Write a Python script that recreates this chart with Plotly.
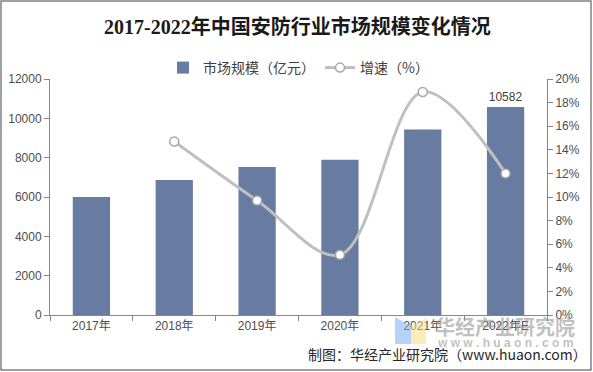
import plotly.graph_objects as go

years = ["2017年", "2018年", "2019年", "2020年", "2021年", "2022年E"]
market_size = [6000, 6860, 7530, 7900, 9430, 10582]
growth = [None, 0.147, 0.097, 0.051, 0.189, 0.120]
bar_labels = ["", "", "", "", "", "10582"]

W, H = 593, 372
L, R, T, B = 50, 46, 79, 57
PW, PH = W - L - R, H - T - B


def px(x):
    return (x - L) / PW


def py(y):
    return (H - B - y) / PH


fig = go.Figure()
fig.add_trace(go.Bar(
    x=years, y=market_size, name="市场规模（亿元）",
    marker=dict(color="#687ba0", line=dict(width=0)),
    text=bar_labels, textposition="outside", cliponaxis=False,
    textfont=dict(family="Liberation Sans, Arial", size=12, color="#404040"),
))
fig.add_trace(go.Scatter(
    x=years, y=growth, name="增速（%）", yaxis="y2",
    mode="lines+markers",
    line=dict(color="#c0c0c0", width=3, shape="spline", smoothing=1.0),
    marker=dict(color="white", size=9, line=dict(color="#a6a6a6", width=1.5)),
    connectgaps=False,
))

axis_font = dict(family="Liberation Sans, Arial, Noto Sans CJK SC", size=12, color="#4d4d4d")

fig.update_layout(
    width=W, height=H,
    margin=dict(l=L, r=R, t=T, b=B, autoexpand=False),
    paper_bgcolor="white", plot_bgcolor="white",
    bargap=0.55,
    showlegend=True,
    legend=dict(orientation="h", x=0.5, xanchor="center", y=py(68), yanchor="middle",
                font=dict(family="Noto Sans CJK SC", size=14, color="#404040"),
                itemwidth=30, bgcolor="rgba(0,0,0,0)"),
    xaxis=dict(showline=True, linecolor="#868686", linewidth=1, automargin=False,
               ticks="outside", ticklen=5, tickcolor="#868686", tickson="boundaries",
               tickfont=axis_font, showgrid=False),
    yaxis=dict(range=[0, 12000], dtick=2000, tickformat="d", showline=True, linecolor="#868686",
               linewidth=1, automargin=False,
               ticks="outside", ticklen=5, tickcolor="#868686", showgrid=False,
               tickfont=axis_font, zeroline=False),
    yaxis2=dict(range=[0, 0.2], dtick=0.02, tickformat=".0%", overlaying="y", side="right",
                showline=True, linecolor="#868686", linewidth=1, automargin=False,
                ticks="outside", ticklen=5, tickcolor="#868686", showgrid=False,
                tickfont=axis_font, zeroline=False),
)

# outer frame
fig.add_shape(type="rect", xref="paper", yref="paper",
              x0=px(1), x1=px(591), y0=py(370), y1=py(1),
              line=dict(color="#808080", width=1.5), fillcolor="rgba(0,0,0,0)", layer="below")

# title
fig.add_annotation(text="<b>2017-2022年中国安防行业市场规模变化情况</b>",
                   xref="paper", yref="paper", x=px(297), y=py(27),
                   showarrow=False, xanchor="center", yanchor="middle",
                   font=dict(family="Liberation Serif, Noto Sans CJK SC", size=20, color="#1a1a1a"))

# watermark logo
fig.add_shape(type="path", xref="paper", yref="paper",
              path=f"M {px(395)},{py(317)} L {px(411)},{py(326)} L {px(411)},{py(344)} L {px(395)},{py(344)} Z",
              fillcolor="rgba(120,175,245,0.55)", line=dict(width=0))
fig.add_shape(type="path", xref="paper", yref="paper",
              path=f"M {px(411)},{py(326)} L {px(426)},{py(318)} L {px(426)},{py(344)} L {px(411)},{py(344)} Z",
              fillcolor="rgba(250,220,130,0.55)", line=dict(width=0))
fig.add_annotation(text="<b>华经产业研究院</b>", xref="paper", yref="paper",
                   x=px(505), y=py(326), showarrow=False, xanchor="center", yanchor="middle",
                   font=dict(family="Noto Sans CJK SC", size=20, color="rgba(150,150,150,0.6)"))
fig.add_annotation(text="<b>w w w . h u a o n . c o m</b>", xref="paper", yref="paper",
                   x=px(505), y=py(343), showarrow=False, xanchor="center", yanchor="middle",
                   font=dict(family="Liberation Sans", size=12, color="rgba(150,150,150,0.6)"))

# caption
fig.add_annotation(text="制图：华经产业研究院（www.huaon.com）", xref="paper", yref="paper",
                   x=px(447), y=py(354), showarrow=False, xanchor="center", yanchor="middle",
                   font=dict(family="Noto Sans CJK SC", size=14, color="#262626"))

fig.write_html("out.html", config={"displayModeBar": False},
               post_script="document.body.style.margin='0';")
